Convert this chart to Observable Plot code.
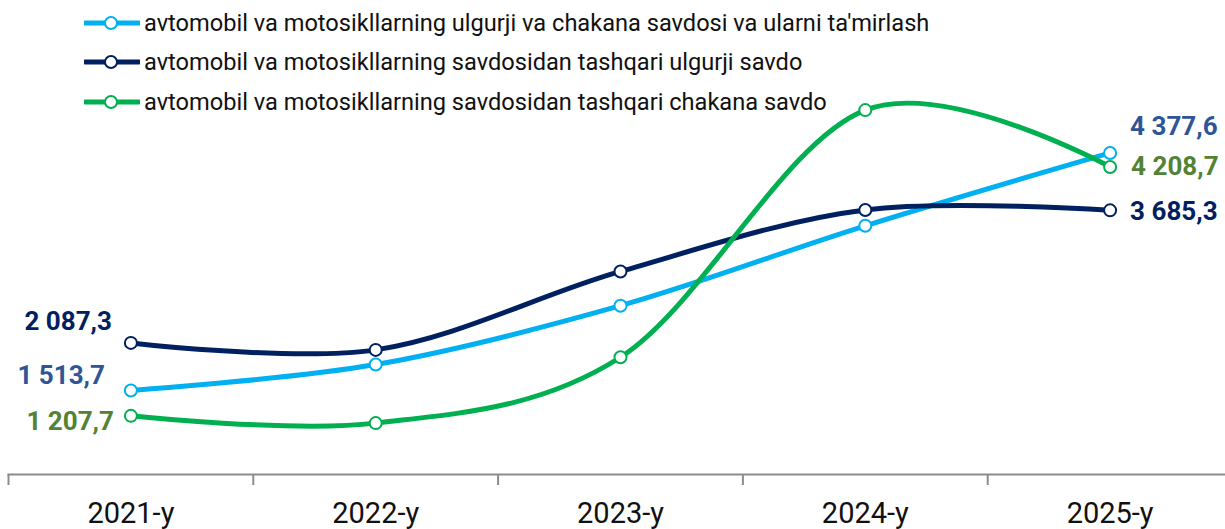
<!DOCTYPE html>
<html>
<head>
<meta charset="utf-8">
<script src="https://cdn.jsdelivr.net/npm/d3@7"></script>
<script src="https://cdn.jsdelivr.net/npm/@observablehq/plot@0.6"></script>
<style>
  html, body { margin: 0; padding: 0; background: #fff; }
  #wrap { position: relative; width: 1225px; height: 529px; font-family: Roboto, "Liberation Sans", sans-serif; }
  #legend { position: absolute; left: 84px; top: 3px; }
  .item { display: flex; align-items: center; height: 39.5px; font-size: 23.6px; color: #111; }
  .item svg { margin-right: 4px; }
</style>
</head>
<body>
<div id="wrap">
  <div id="chart"></div>
  <div id="legend"></div>
</div>
<script>
const years = ["2021-y", "2022-y", "2023-y", "2024-y", "2025-y"];
const seriesNames = [
  "avtomobil va motosikllarning ulgurji va chakana savdosi va ularni ta'mirlash",
  "avtomobil va motosikllarning savdosidan tashqari ulgurji savdo",
  "avtomobil va motosikllarning savdosidan tashqari chakana savdo"
];
const tradeRepair = [1513.7, 1826, 2536, 3499, 4377.6];
const wholesale   = [2087.3, 2003, 2949, 3690, 3685.3];
const retail      = [1207.7, 1120, 1914, 4894, 4208.7];

const lineColors  = ["#00b0f0", "#002060", "#00b050"];
const labelColors = ["#2f5597", "#002060", "#548235"];

const values = [tradeRepair, wholesale, retail];
const rows = values.map((arr, s) => arr.map((v, i) => ({s, i, v})));

const loc = d3.formatLocale({decimal: ",", thousands: " ", grouping: [3]});
const fmt = loc.format(",.1f");

const edges = d3.range(years.length + 1).map(k => k - 0.5);
const labelFont = {fontSize: 26, fontWeight: "bold"};

const marks = [];
rows.forEach((r, s) => {
  marks.push(Plot.line(r, {x: "i", y: "v", stroke: lineColors[s], strokeWidth: 5, curve: "cardinal", tension: 0}));
  marks.push(Plot.dot(r, {x: "i", y: "v", r: 6, fill: "white", stroke: lineColors[s], strokeWidth: 2}));
});
// left labels
marks.push(Plot.text([rows[1][0]], {x: "i", y: "v", text: d => fmt(d.v), textAnchor: "end", dx: -19, dy: -21, fill: labelColors[1], ...labelFont}));
marks.push(Plot.text([rows[0][0]], {x: "i", y: "v", text: d => fmt(d.v), textAnchor: "end", dx: -26, dy: -15, fill: labelColors[0], ...labelFont}));
marks.push(Plot.text([rows[2][0]], {x: "i", y: "v", text: d => fmt(d.v), textAnchor: "end", dx: -17, dy: 6, fill: labelColors[2], ...labelFont}));
// right labels
const last = years.length - 1;
marks.push(Plot.text([rows[0][last]], {x: "i", y: "v", text: d => fmt(d.v), textAnchor: "start", dx: 20, dy: -26, fill: labelColors[0], ...labelFont}));
marks.push(Plot.text([rows[2][last]], {x: "i", y: "v", text: d => fmt(d.v), textAnchor: "start", dx: 21, dy: 0, fill: labelColors[2], ...labelFont}));
marks.push(Plot.text([rows[1][last]], {x: "i", y: "v", text: d => fmt(d.v), textAnchor: "start", dx: 20, dy: 1, fill: labelColors[1], ...labelFont}));

const chart = Plot.plot({
  width: 1225,
  height: 529,
  marginLeft: 8,
  marginRight: 0,
  marginTop: 0,
  marginBottom: 55,
  style: {fontFamily: "Roboto, 'Liberation Sans', sans-serif", background: "white", overflow: "visible"},
  x: {domain: [-0.5, years.length - 0.5], range: [8, 1232], axis: null},
  y: {domain: [0, 6000], range: [515.5, 17.9], axis: null},
  marks: [
    Plot.frame({anchor: "bottom", stroke: "#8c8c8c", strokeWidth: 2}),
    Plot.axisX({ticks: edges, tickSize: 11, tickFormat: () => "", label: null, stroke: "#8c8c8c", strokeWidth: 2}),
    Plot.axisX({ticks: d3.range(years.length), tickSize: 0, tickPadding: 28, tickFormat: i => years[i], label: null, fontSize: 29, fill: "#111"}),
    ...marks
  ]
});
document.getElementById("chart").appendChild(chart);

const legend = d3.select("#legend");
seriesNames.forEach((name, s) => {
  const item = legend.append("div").attr("class", "item");
  const sw = item.append("svg").attr("width", 56).attr("height", 16);
  sw.append("line").attr("x1", 1).attr("x2", 55).attr("y1", 8).attr("y2", 8)
    .attr("stroke", lineColors[s]).attr("stroke-width", 5).attr("stroke-linecap", "round");
  sw.append("circle").attr("cx", 27).attr("cy", 8).attr("r", 6)
    .attr("fill", "white").attr("stroke", lineColors[s]).attr("stroke-width", 2);
  item.append("span").text(name);
});
</script>
</body>
</html>
